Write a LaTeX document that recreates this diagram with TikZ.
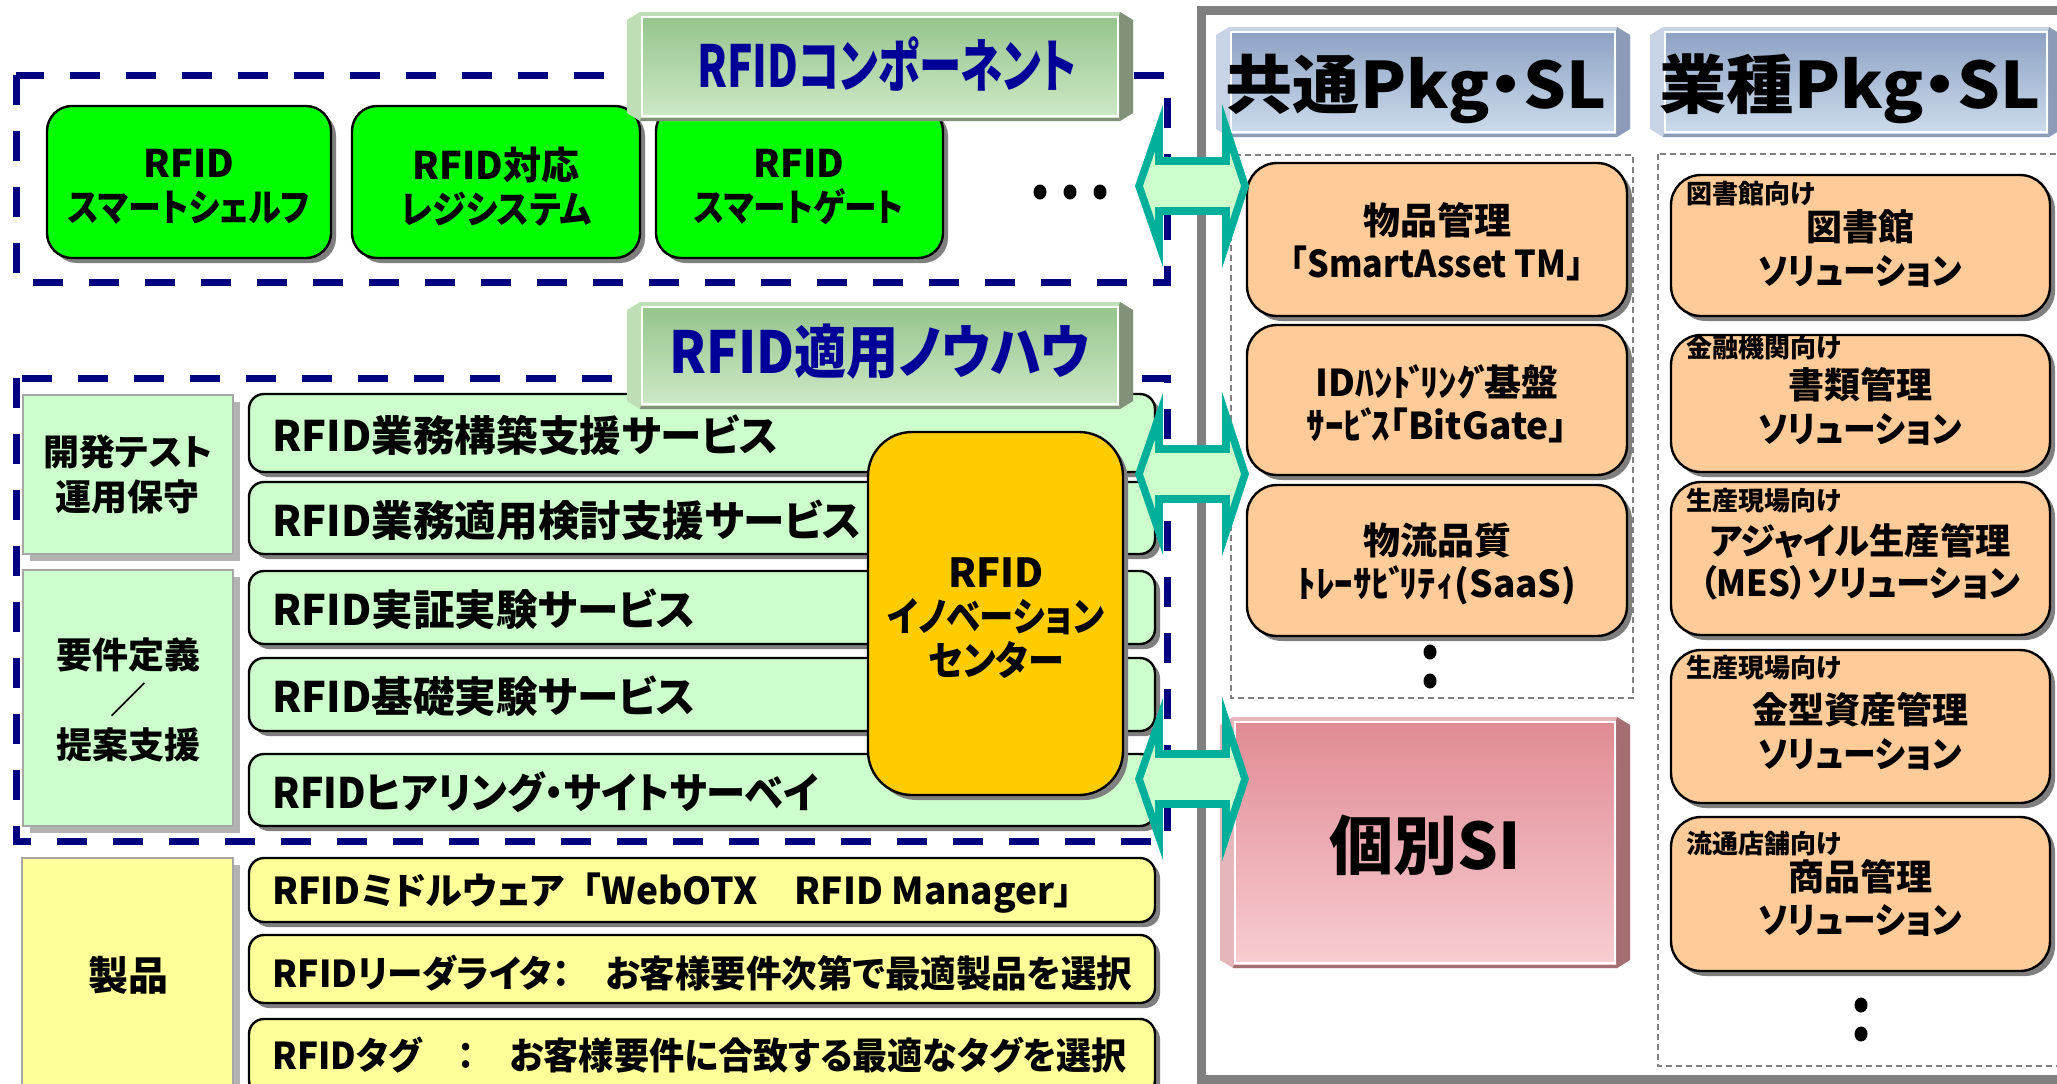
\documentclass[tikz,border=0pt]{standalone}
\usepackage{fontspec}
\usepackage{graphicx}
\usetikzlibrary{shadows}
\newfontfamily\jp[RawFeature=+palt]{Noto Sans CJK JP}
\newfontfamily\jpn{Noto Sans CJK JP}
\newcommand\fs[2]{\fontsize{#1pt}{#2pt}\selectfont}
\newcommand\sq[2]{\scalebox{#1}[1]{#2}}
\newcommand\dk{\kern-0.06em ﾞ\kern-0.2em}
\definecolor{navyc}{HTML}{000080}
\definecolor{titleblue}{HTML}{000099}
\definecolor{brgreen}{HTML}{00FF00}
\definecolor{lgreen}{HTML}{CCFFCC}
\definecolor{lyellow}{HTML}{FFFF99}
\definecolor{lorange}{HTML}{FFCC99}
\definecolor{gold}{HTML}{FFCC00}
\definecolor{tealc}{HTML}{00B09A}
\definecolor{shgray}{HTML}{7F7F7F}
\definecolor{framegray}{HTML}{808080}
\definecolor{gtop}{HTML}{95C48C}
\definecolor{gbot}{HTML}{CDE9C6}
\definecolor{glight}{HTML}{BEDFB6}
\definecolor{gdark}{HTML}{82927A}
\definecolor{btop}{HTML}{8DA1C3}
\definecolor{bbot}{HTML}{CCDCEC}
\definecolor{blight}{HTML}{C8D4E6}
\definecolor{bdark}{HTML}{8C9CB8}
\definecolor{ptop}{HTML}{E08A94}
\definecolor{pbot}{HTML}{F8CDD1}
\definecolor{plight}{HTML}{E5B7BA}
\definecolor{pdark}{HTML}{A46E72}
\newcommand\bevelbox[8]{%
  \fill[#5] (#1,#2+8) -- (#1+13,#2) -- (#3-13,#2) -- (#3,#2+8) -- (#3,#4-8) -- (#3-13,#4) -- (#1+13,#4) -- (#1,#4-8) -- cycle;
  \fill[#6] (#3-14,#2+4) -- (#3-13,#2) -- (#3,#2+8) -- (#3,#4-8) -- (#3-13,#4) -- (#3-14,#4-4) -- cycle;
  \fill[#6] (#1+14,#4-4) -- (#3-14,#4-4) -- (#3-13,#4) -- (#1+13,#4) -- cycle;
  \shade[top color=#7,bottom color=#8] (#1+14,#2+4) rectangle (#3-14,#4-4);
  \draw[white, line width=0.8pt] (#1+15,#2+5) rectangle (#3-15,#4-5);
}
\newcommand\dblarrow[1]{%
  \draw[arrowsty] (1139,#1) -- (1159,#1-58) -- (1159,#1-25) -- (1226,#1-25) -- (1226,#1-58) -- (1245,#1) -- (1226,#1+58) -- (1226,#1+25) -- (1159,#1+25) -- (1159,#1+58) -- cycle;
}
\begin{document}
\begin{tikzpicture}[x=0.5pt,y=-0.5pt,
  bx/.style n args={4}{at={({(#1+#3)/2},{(#2+#4)/2})}, minimum width={(#3-#1)*0.5pt}, minimum height={(#4-#2)*0.5pt}, inner sep=0pt, outer sep=0pt},
  shadowed/.style={drop shadow={shadow xshift=2.5pt, shadow yshift=-2.5pt, fill=shgray, opacity=1}},
  rbox/.style={draw=black, line width=1.2pt, shadowed},
  lblbox/.style={draw=gray!70, line width=0.7pt, drop shadow={shadow xshift=3.5pt, shadow yshift=-3.5pt, fill=gray!60, opacity=1}},
  txt/.style={font=\jp\bfseries, inner sep=0pt, align=center},
  navydash/.style={draw=navyc, line width=3.5pt, dash pattern=on 15pt off 13pt},
  graydash/.style={draw=gray, line width=0.6pt, dash pattern=on 3pt off 2pt},
  arrowsty/.style={draw=tealc, fill=lgreen, line width=3.8pt, line join=miter, miter limit=20},
  dotc/.style={fill=black, draw=none}
]
\path[use as bounding box, clip] (0,0) rectangle (2057,1083);
\fill[white] (0,0) rectangle (2057,1083);

% ---------- right frame ----------
\draw[framegray, line width=4.5pt] (1201,10) rectangle (2075,1079);
\draw[graydash] (1231,155) rectangle (1633,698);
\draw[graydash] (1658,154) rectangle (2075,1066);

% ---------- dashed navy groups ----------
\draw[navydash] (16,75) rectangle (1167,282);
\draw[navydash] (16,378) rectangle (1167,841);

% ---------- RFID components ----------
\node[rbox, rounded corners=12.5pt, fill=brgreen, bx={47}{106}{331}{258}] (g1) {};
\node[rbox, rounded corners=12.5pt, fill=brgreen, bx={352}{106}{640}{258}] (g2) {};
\node[rbox, rounded corners=12.5pt, fill=brgreen, bx={656}{106}{943}{258}] (g3) {};
\node[txt, font=\jp\bfseries\fs{19}{22}] (g1t) at (189,187) {RFID\\\sq{0.87}{スマートシェルフ}};
\node[txt, font=\jp\bfseries\fs{19}{22}] (g2t) at (496,187) {RFID対応\\\sq{0.9}{レジシステム}};
\node[txt, font=\jp\bfseries\fs{19}{22}] (g3t) at (799,187) {RFID\\\sq{0.86}{スマートゲート}};
\fill[dotc] (1040,192) ellipse (6.5 and 7.5);
\fill[dotc] (1070,192) ellipse (6.5 and 7.5);
\fill[dotc] (1100,192) ellipse (6.5 and 7.5);
\bevelbox{627}{12}{1133}{121}{glight}{gdark}{gtop}{gbot}
\node[txt, text=titleblue, font=\jp\bfseries\fs{29}{32}] (t1) at (887,64) {\sq{0.73}{RFIDコンポーネント}};

% ---------- RFID know-how ----------
\node[lblbox, fill=lgreen, bx={23}{395}{233}{554}] (l1) {};
\node[txt, font=\jp\bfseries\fs{18}{22.5}] (l1t) at (l1) {開発テスト\\運用保守};
\node[lblbox, fill=lgreen, bx={23}{570}{233}{826}] (l2) {};
\node[txt, font=\jp\bfseries\fs{18}{22.5}] (l2t) at (128,700) {要件定義\\／\\提案支援};

\node[rbox, rounded corners=7.5pt, fill=lgreen, bx={249}{394}{1155}{472}] (b1) {};
\node[rbox, rounded corners=7.5pt, fill=lgreen, bx={249}{482}{1155}{554}] (b2) {};
\node[rbox, rounded corners=7.5pt, fill=lgreen, bx={249}{571}{1155}{644}] (b3) {};
\node[rbox, rounded corners=7.5pt, fill=lgreen, bx={249}{658}{1155}{731}] (b4) {};
\node[rbox, rounded corners=7.5pt, fill=lgreen, bx={249}{754}{1155}{826}] (b5) {};
\node[txt, anchor=west, font=\jp\bfseries\fs{21}{25}] (b1t) at (272,435) {\sq{0.99}{RFID業務構築支援サービス}};
\node[txt, anchor=west, font=\jp\bfseries\fs{21}{25}] (b2t) at (272,520) {\sq{0.99}{RFID業務適用検討支援サービス}};
\node[txt, anchor=west, font=\jp\bfseries\fs{21}{25}] (b3t) at (272,609) {\sq{0.99}{RFID実証実験サービス}};
\node[txt, anchor=west, font=\jp\bfseries\fs{21}{25}] (b4t) at (272,696) {\sq{0.99}{RFID基礎実験サービス}};
\node[txt, anchor=west, font=\jp\bfseries\fs{21}{25}] (b5t) at (272,792) {\sq{0.935}{RFIDヒアリング・サイトサーベイ}};

\node[rbox, rounded corners=22pt, fill=gold, bx={868}{432}{1123}{795}] (ic) {};
\node[txt, font=\jp\bfseries\fs{20}{22}] (ict) at (996,618) {RFID\\\sq{0.86}{イノベーション}\\\sq{0.9}{センター}};

\bevelbox{627}{302}{1133}{409}{glight}{gdark}{gtop}{gbot}
\node[txt, text=titleblue, font=\jp\bfseries\fs{29}{32}] (t2) at (880,352) {\sq{0.9}{RFID適用ノウハウ}};

% ---------- products ----------
\node[lblbox, fill=lyellow, bx={22}{858}{233}{1095}] (l3) {};
\node[txt, font=\jp\bfseries\fs{20}{24}] (l3t) at (128,975) {製品};
\node[rbox, rounded corners=7.5pt, fill=lyellow, bx={249}{858}{1155}{922}] (y1) {};
\node[rbox, rounded corners=7.5pt, fill=lyellow, bx={249}{935}{1155}{1003}] (y2) {};
\node[rbox, rounded corners=7.5pt, fill=lyellow, bx={249}{1019}{1155}{1095}] (y3) {};
\node[txt, anchor=west, font=\jp\bfseries\fs{18.5}{22}] (y1t) at (272,893) {\sq{1.0}{RFIDミドルウェア{\jpn 「}WebOTX　RFID Manager」}};
\node[txt, anchor=west, font=\jp\bfseries\fs{18.5}{22}] (y2t) at (272,973) {\sq{0.96}{RFIDリーダライタ：　お客様要件次第で最適製品を選択}};
\node[txt, anchor=west, font=\jp\bfseries\fs{18.5}{22}] (y3t) at (272,1055) {\sq{0.95}{RFIDタグ　：　お客様要件に合致する最適なタグを選択}};

% ---------- right side headers ----------
\bevelbox{1216}{27}{1630}{137}{blight}{bdark}{btop}{bbot}
\bevelbox{1650}{27}{2062}{137}{blight}{bdark}{btop}{bbot}
\node[txt, font=\jp\bfseries\fs{32}{36}] (h1) at (1416,89) {\sq{1.05}{共通Pkg・SL}};
\node[txt, font=\jp\bfseries\fs{32}{36}] (h2) at (1850,89) {\sq{1.05}{業種Pkg・SL}};

% ---------- common packages ----------
\node[rbox, rounded corners=15pt, fill=lorange, bx={1247}{163}{1627}{316}] (c1) {};
\node[rbox, rounded corners=15pt, fill=lorange, bx={1247}{325}{1627}{475}] (c2) {};
\node[rbox, rounded corners=15pt, fill=lorange, bx={1247}{485}{1627}{636}] (c3) {};
\node[txt, font=\jp\bfseries\fs{18.5}{21.5}] (c1t) at (1437,242) {物品管理\\\sq{0.92}{「SmartAsset TM」}};
\node[txt, font=\jpn\bfseries\fs{18.5}{21.5}] (c2t) at (1437,404) {\sq{1.0}{IDﾊﾝﾄ\dk ﾘﾝｸ\dk 基盤}\\\sq{1.0}{ｻｰﾋ\dk ｽ{\jp 「}BitGate{\jp 」}}};
\node[txt, font=\jpn\bfseries\fs{18.5}{21.5}] (c3t) at (1437,564) {物流品質\\\sq{1.0}{ﾄﾚｰｻﾋ\dk ﾘﾃｨ(SaaS)}};
\fill[dotc] (1430,652) ellipse (6.5 and 7.5);
\fill[dotc] (1430,681) ellipse (6.5 and 7.5);

\bevelbox{1220}{717}{1630}{968}{plight}{pdark}{ptop}{pbot}
\node[txt, font=\jp\bfseries\fs{32}{36}] (si) at (1425,845) {個別SI};

% ---------- industry packages ----------
\node[rbox, rounded corners=15pt, fill=lorange, bx={1671}{175}{2050}{316}] (r1) {};
\node[rbox, rounded corners=15pt, fill=lorange, bx={1671}{335}{2050}{472}] (r2) {};
\node[rbox, rounded corners=15pt, fill=lorange, bx={1671}{482}{2050}{635}] (r3) {};
\node[rbox, rounded corners=15pt, fill=lorange, bx={1671}{650}{2050}{803}] (r4) {};
\node[rbox, rounded corners=15pt, fill=lorange, bx={1671}{817}{2050}{971}] (r5) {};
\node[txt, anchor=west, font=\jp\bfseries\fs{13}{15}] (r1a) at (1686,194) {図書館向け};
\node[txt, font=\jp\bfseries\fs{18}{22}] (r1b) at (1860,249) {図書館\\\sq{0.91}{ソリューション}};
\node[txt, anchor=west, font=\jp\bfseries\fs{13}{15}] (r2a) at (1686,348) {金融機関向け};
\node[txt, font=\jp\bfseries\fs{18}{22}] (r2b) at (1860,406) {書類管理\\\sq{0.91}{ソリューション}};
\node[txt, anchor=west, font=\jp\bfseries\fs{13}{15}] (r3a) at (1686,501) {生産現場向け};
\node[txt, font=\jp\bfseries\fs{18}{21}] (r3b) at (1860,562) {\sq{0.98}{アジャイル生産管理}\\\sq{0.95}{（MES）ソリューション}};
\node[txt, anchor=west, font=\jp\bfseries\fs{13}{15}] (r4a) at (1686,668) {生産現場向け};
\node[txt, font=\jp\bfseries\fs{18}{22}] (r4b) at (1860,731) {金型資産管理\\\sq{0.91}{ソリューション}};
\node[txt, anchor=west, font=\jp\bfseries\fs{13}{15}] (r5a) at (1686,844) {流通店舗向け};
\node[txt, font=\jp\bfseries\fs{18}{21.5}] (r5b) at (1860,898) {商品管理\\\sq{0.91}{ソリューション}};
\fill[dotc] (1861,1005) ellipse (6.5 and 7.5);
\fill[dotc] (1861,1034) ellipse (6.5 and 7.5);

% ---------- double arrows ----------
\dblarrow{186}
\dblarrow{474}
\dblarrow{779}
\end{tikzpicture}
\end{document}
